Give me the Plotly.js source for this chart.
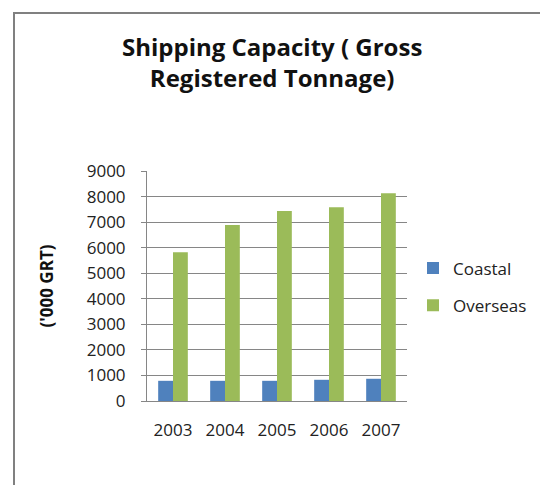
<!DOCTYPE html>
<html>
<head>
<meta charset="utf-8">
<script src="https://cdn.plot.ly/plotly-3.0.1.min.js"></script>
<style>
html,body{margin:0;padding:0;background:#fff;overflow:hidden;width:540px;height:485px;}
#wrap{position:relative;width:540px;height:485px;overflow:hidden;}
#chart{width:540px;height:485px;}
#frame{position:absolute;left:13px;top:12px;width:525px;height:471px;border-left:2px solid #808080;border-top:2px solid #808080;pointer-events:none;box-sizing:content-box;}
</style>
</head>
<body>
<div id="wrap"><div id="chart"></div><div id="frame"></div></div>
<script>
const years = ["2003", "2004", "2005", "2006", "2007"];
const coastal = [790, 790, 790, 830, 870];
const overseas = [5820, 6890, 7430, 7580, 8130];
const yTicks = [0, 1000, 2000, 3000, 4000, 5000, 6000, 7000, 8000, 9000];

const font = "Open Sans, Liberation Sans, sans-serif";
const traces = [
  {type: "bar", name: "Coastal", x: years, y: coastal, legendgroup: "a",
   marker: {color: "#4F81BD"}},
  {type: "bar", name: "Overseas", x: years, y: overseas, legendgroup: "b",
   marker: {color: "#9BBB59"}}
];
const layout = {
  width: 540, height: 485,
  margin: {l: 147, r: 133, t: 171, b: 84},
  paper_bgcolor: "#ffffff", plot_bgcolor: "#ffffff",
  barmode: "group", bargap: 0.43, bargroupgap: 0,
  font: {family: font, color: "#222222", size: 17},
  title: {text: "<b>Shipping Capacity ( Gross<br>Registered Tonnage)</b>",
          x: 0.504, xanchor: "center", y: 1 - 56 / 485, yanchor: "middle", yref: "container",
          font: {family: font, size: 24, color: "#111111"}},
  xaxis: {type: "category", showline: true, linecolor: "#868686", linewidth: 1,
          ticks: "", ticklabelstandoff: 14, tickfont: {size: 17, color: "#222"},
          showgrid: false, fixedrange: true},
  yaxis: {range: [0, 9000], tickvals: yTicks, ticktext: yTicks.map(String),
          showline: true, linecolor: "#868686", linewidth: 1,
          ticks: "outside", ticklen: 5, tickcolor: "#868686",
          gridcolor: "#868686", gridwidth: 1, zeroline: false,
          ticklabelstandoff: 12, tickfont: {size: 17, color: "#222"},
          title: {text: "<b>('000 GRT)</b>", standoff: 28, font: {size: 17, color: "#111"}},
          fixedrange: true},
  legend: {xref: "container", yref: "container", x: 413 / 540, xanchor: "left",
           y: 1 - 287 / 485, yanchor: "middle",
           font: {size: 17, color: "#222"}, tracegroupgap: 12, bgcolor: "rgba(0,0,0,0)"}
};
Plotly.newPlot("chart", traces, layout, {displayModeBar: false, staticPlot: true});
</script>
</body>
</html>
